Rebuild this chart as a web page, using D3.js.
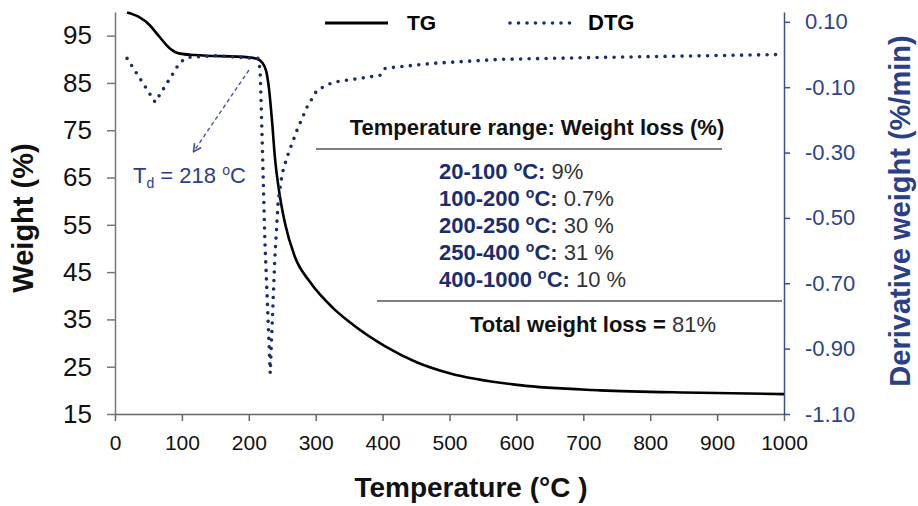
<html>
<head>
<script src="https://d3js.org/d3.v7.min.js"></script>
<style>
  body { margin: 0; background: #fff; }
  svg { font-family: Arial, "Liberation Sans", sans-serif; }
</style>
</head>
<body>
<svg width="918" height="506"></svg>
<script>
// TG curve (weight %)
const tgTemp   = [18, 35, 52, 65, 82, 97, 120, 200, 212, 220, 226, 230, 235, 239, 245, 254, 269, 291, 326, 351, 404, 450, 500, 605, 725, 875, 1000];
const tgWeight = [99.9, 99, 97.2, 95, 92.3, 91.2, 90.9, 90.4, 90.1, 89.3, 87.5, 84, 76.5, 69.3, 62.4, 55.4, 48.2, 43.0, 37.4, 34.4, 29.3, 26, 23.6, 21.1, 20.0, 19.5, 19.2];

// DTG curve (%/min)
const dtgTemp = [18, 60, 97, 109, 150, 214, 217, 220, 224, 229, 232, 235, 239, 244, 250, 257, 272, 287, 302, 326, 396, 404, 475, 575, 725, 1000];
const dtgRate = [-0.012, -0.146, -0.024, -0.009, -0.004, -0.012, -0.048, -0.262, -0.568, -0.822, -0.975, -0.822, -0.620, -0.446, -0.364, -0.315, -0.232, -0.161, -0.109, -0.085, -0.064, -0.042, -0.027, -0.015, -0.009, 0.0];

const xTicks = [0, 100, 200, 300, 400, 500, 600, 700, 800, 900, 1000];
const wTicks = [15, 25, 35, 45, 55, 65, 75, 85, 95];
const dTicks = [0.10, -0.10, -0.30, -0.50, -0.70, -0.90, -1.10];

const lossRanges = ["20-100", "100-200", "200-250", "250-400", "400-1000"];
const lossValues = ["9%", "0.7%", "30 %", "31 %", "10 %"];

const navy = "#1c2c6c";
const svg = d3.select("svg");

const x  = d3.scaleLinear().domain([0, 1000]).range([115, 784]);
const yW = d3.scaleLinear().domain([15, 100]).range([414, 12]);
const yD = d3.scaleLinear().domain([-1.1, 0.13]).range([414, 12]);

// axes
const gx = svg.append("g").attr("transform", "translate(0,414)")
  .call(d3.axisBottom(x).tickValues(xTicks).tickFormat(d3.format("d")).tickSize(7).tickSizeOuter(0).tickPadding(14));
gx.selectAll("text").style("font-size", "21px").attr("fill", "#111");
gx.selectAll("line, path").attr("stroke", "#666").attr("stroke-width", 1.5);

const gl = svg.append("g").attr("transform", "translate(115,0)")
  .call(d3.axisLeft(yW).tickValues(wTicks).tickSize(8).tickSizeOuter(0).tickPadding(15));
gl.selectAll("text").style("font-size", "26px").attr("fill", "#111");
gl.selectAll("line, path").attr("stroke", "#777").attr("stroke-width", 1.5);

const gr = svg.append("g").attr("transform", "translate(784,0)")
  .call(d3.axisRight(yD).tickValues(dTicks).tickFormat(d => d.toFixed(2)).tickSize(6).tickSizeOuter(0).tickPadding(15));
gr.selectAll("text").style("font-size", "22px").attr("fill", "#2e4486");
gr.selectAll("line, path").attr("stroke", "#3b4f93").attr("stroke-width", 1.5);

// axis titles
svg.append("text").attr("x", 471).attr("y", 497).attr("text-anchor", "middle")
  .style("font-size", "28px").style("font-weight", "bold").attr("fill", "#111")
  .text("Temperature (°C )");
svg.append("text").attr("transform", "translate(33,218) rotate(-90)").attr("text-anchor", "middle")
  .style("font-size", "29px").style("font-weight", "bold").attr("fill", "#111")
  .text("Weight (%)");
svg.append("text").attr("transform", "translate(910,211) rotate(-90)").attr("text-anchor", "middle")
  .style("font-size", "29px").style("font-weight", "bold").attr("fill", "#2a3f85")
  .text("Derivative weight (%/min)");

// curves
const tgLine = d3.line().x((d, i) => x(tgTemp[i])).y(d => yW(d)).curve(d3.curveMonotoneX);
svg.append("path").attr("d", tgLine(tgWeight))
  .attr("fill", "none").attr("stroke", "#000").attr("stroke-width", 2.6);

const dtgLine = d3.line().x((d, i) => x(dtgTemp[i])).y(d => yD(d));
svg.append("path").attr("d", dtgLine(dtgRate))
  .attr("fill", "none").attr("stroke", navy).attr("stroke-width", 3.6)
  .attr("stroke-linecap", "round").attr("stroke-dasharray", "0,8.5");

// legend
svg.append("line").attr("x1", 325).attr("x2", 388).attr("y1", 23).attr("y2", 23)
  .attr("stroke", "#000").attr("stroke-width", 3);
svg.append("text").attr("x", 407).attr("y", 30).style("font-size", "21px").style("font-weight", "bold").text("TG");
svg.append("line").attr("x1", 510).attr("x2", 570).attr("y1", 23).attr("y2", 23)
  .attr("stroke", navy).attr("stroke-width", 3.6).attr("stroke-linecap", "round").attr("stroke-dasharray", "0,8.5");
svg.append("text").attr("x", 588).attr("y", 30).style("font-size", "22px").style("font-weight", "bold").text("DTG");

// weight-loss table
svg.append("text").attr("x", 537).attr("y", 135).attr("text-anchor", "middle")
  .style("font-size", "22px").style("font-weight", "bold").attr("fill", "#111")
  .text("Temperature range: Weight loss (%)");
svg.append("line").attr("x1", 316).attr("x2", 722).attr("y1", 149).attr("y2", 149)
  .attr("stroke", "#555").attr("stroke-width", 1.6);

lossRanges.forEach((r, i) => {
  const t = svg.append("text").attr("x", 439).attr("y", 179 + i * 26.9).style("font-size", "22px");
  t.append("tspan").style("font-weight", "bold").attr("fill", navy).text(r + " ");
  t.append("tspan").style("font-weight", "bold").attr("fill", navy).style("font-size", "14px").attr("dy", -8).text("o");
  t.append("tspan").style("font-weight", "bold").attr("fill", navy).attr("dy", 8).text("C:");
  t.append("tspan").attr("fill", "#333").text(" " + lossValues[i]);
});

svg.append("line").attr("x1", 377).attr("x2", 782).attr("y1", 301).attr("y2", 301)
  .attr("stroke", "#555").attr("stroke-width", 1.6);
const tot = svg.append("text").attr("x", 470).attr("y", 332).style("font-size", "22px").attr("fill", "#111");
tot.append("tspan").style("font-weight", "bold").text("Total weight loss = ");
tot.append("tspan").attr("fill", "#333").text("81%");

// Td annotation
svg.append("defs").append("marker").attr("id", "arr").attr("viewBox", "0 0 10 10")
  .attr("refX", 8).attr("refY", 5).attr("markerWidth", 7).attr("markerHeight", 7).attr("orient", "auto")
  .append("path").attr("d", "M1,1 L9,5 L1,9").attr("fill", "none").attr("stroke", "#3e4f95").attr("stroke-width", 1.6);
svg.append("line").attr("x1", 249).attr("y1", 70).attr("x2", 194).attr("y2", 151)
  .attr("stroke", "#4a5a9a").attr("stroke-width", 1.4).attr("stroke-dasharray", "4,3")
  .attr("marker-end", "url(#arr)");
const td = svg.append("text").attr("x", 133).attr("y", 183).style("font-size", "22px").attr("fill", "#2a3f85");
td.append("tspan").text("T");
td.append("tspan").style("font-size", "14px").attr("dy", 5).text("d");
td.append("tspan").attr("dy", -5).text(" = 218 ");
td.append("tspan").style("font-size", "14px").attr("dy", -8).text("o");
td.append("tspan").attr("dy", 8).text("C");
</script>
</body>
</html>
